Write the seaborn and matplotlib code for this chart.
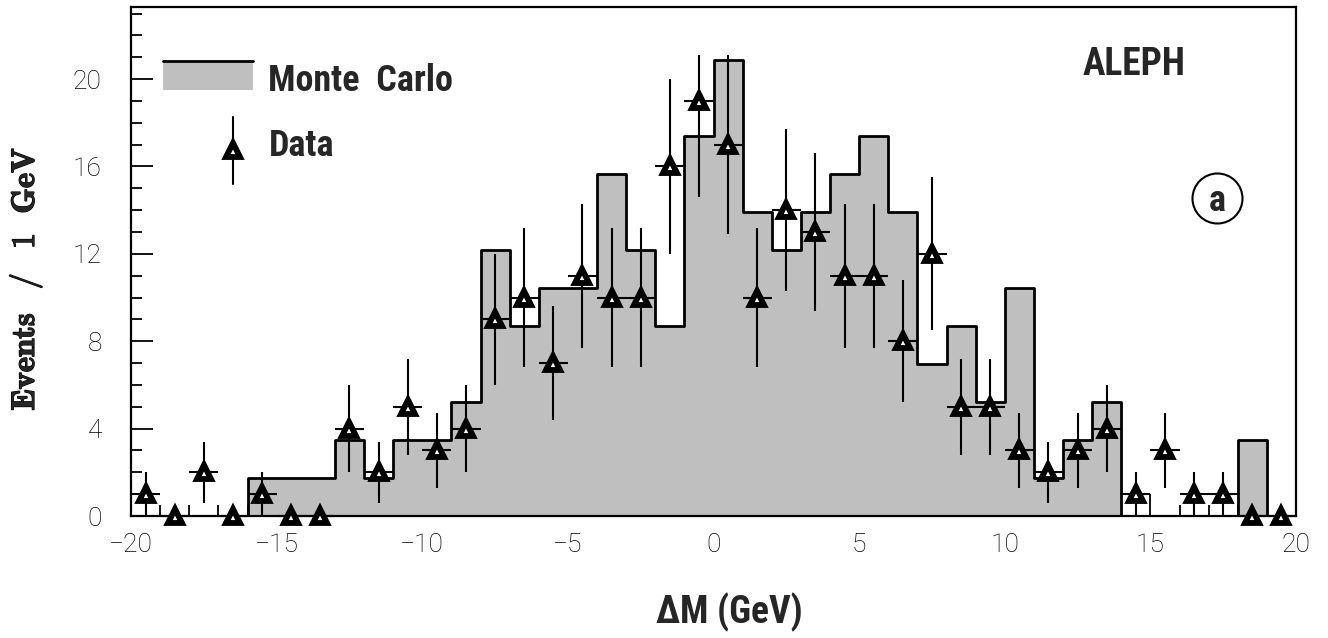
import numpy as np
import pandas as pd
import matplotlib
matplotlib.use("Agg")
import matplotlib.pyplot as plt
import seaborn as sns
from matplotlib import font_manager as fm
from matplotlib import patheffects as pe
from matplotlib.ticker import MultipleLocator
from matplotlib.patches import Rectangle, Patch
from matplotlib.lines import Line2D
from matplotlib.legend_handler import HandlerBase

# ---------------- data ----------------
bin_edges = list(range(-20, 21))                     # 1 GeV bins
bin_centers = [e + 0.5 for e in range(-20, 20)]

mc_values = [0, 0, 0, 0, 1.74, 1.74, 1.74, 3.48, 1.74, 3.48,
             3.48, 5.22, 12.18, 8.70, 10.44, 10.44, 15.66, 12.18, 8.70, 17.40,
             20.88, 13.92, 12.18, 13.92, 15.66, 17.40, 13.92, 6.96, 8.70, 5.22,
             10.44, 1.74, 3.48, 5.22, 0, 0, 0, 0, 3.48, 0]

data_counts = [1, 0, 2, 0, 1, 0, 0, 4, 2, 5,
               3, 4, 9, 10, 7, 11, 10, 10, 16, 19,
               17, 10, 14, 13, 11, 11, 8, 12, 5, 5,
               3, 2, 3, 4, 1, 3, 1, 1, 0, 0]

err_low = [1.0, 0, 1.4, 0, 1.0, 0, 0, 2.0, 1.4, 2.2,
           1.7, 2.0, 3.0, 3.2, 2.6, 3.3, 3.2, 3.2, 4.0, 4.4,
           4.1, 3.2, 3.7, 3.6, 3.3, 3.3, 2.8, 3.5, 2.2, 2.2,
           1.7, 1.4, 1.7, 2.0, 1.0, 1.7, 1.0, 1.0, 0, 0]

err_high = [1.0, 0, 1.4, 0, 1.0, 0, 0, 2.0, 1.4, 2.2,
            1.7, 2.0, 3.0, 3.2, 2.6, 3.3, 3.2, 3.2, 4.0, 2.1,
            4.1, 3.2, 3.7, 3.6, 3.3, 3.3, 2.8, 3.5, 2.2, 2.2,
            1.7, 1.4, 1.7, 2.0, 1.0, 1.7, 1.0, 1.0, 0, 0]

bin_half_width = 0.5

x_ticks_major = [-20, -15, -10, -5, 0, 5, 10, 15, 20]
y_ticks_major = [0, 4, 8, 12, 16, 20]

# ---------------- fonts ----------------
names = {f.name for f in fm.fontManager.ttflist}


def pick(cands):
    for c in cands:
        if c in names:
            return c
    return "DejaVu Sans"


NARROW = [pick(["Roboto Condensed", "Liberation Sans Narrow",
                "DejaVu Sans Condensed", "Roboto", "DejaVu Sans"]),
          "DejaVu Sans"]

# ---------------- style ----------------
sns.set_style("ticks")
plt.rcParams["font.family"] = ["Roboto", "DejaVu Sans"]
plt.rcParams["font.weight"] = "light"
plt.rcParams["mathtext.fontset"] = "cm"
plt.rcParams["axes.unicode_minus"] = True

MC_FILL = "#bfbfbf"

fig = plt.figure(figsize=(13.28, 6.38), dpi=100)
ax = fig.add_axes([131 / 1328, 1 - 516 / 638, 1165 / 1328, 509 / 638])

df_mc = pd.DataFrame({"dm": bin_centers, "mc": mc_values})
sns.histplot(data=df_mc, x="dm", weights="mc", bins=bin_edges,
             element="step", fill=True, facecolor=MC_FILL, edgecolor="black",
             linewidth=2.0, alpha=1.0, ax=ax, zorder=1)

ax.errorbar(bin_centers, data_counts, yerr=[err_low, err_high],
            xerr=bin_half_width, fmt="^", ms=10, mfc="white", mec="black",
            mew=4.2, ecolor="black", elinewidth=1.5, capsize=0,
            clip_on=False, zorder=3)

ax.set_xlim(-20, 20)
ax.set_ylim(0, 23.3)
ax.set_xticks(x_ticks_major)
ax.set_yticks(y_ticks_major)
ax.xaxis.set_minor_locator(MultipleLocator(1))
ax.yaxis.set_minor_locator(MultipleLocator(1))
ax.tick_params(which="both", direction="in", top=False, right=False,
               width=1.3, color="black", labelsize=19, labelcolor="black")
ax.tick_params(which="major", length=16)
ax.tick_params(which="minor", length=8)
ax.tick_params(axis="y", pad=21)
ax.tick_params(axis="x", pad=12)
for s in ax.spines.values():
    s.set_linewidth(1.6)
    s.set_color("black")

ax.set_xlabel("ΔM (GeV)", fontsize=27, fontweight="bold", family=NARROW)
ax.xaxis.set_label_coords(0.514, -0.151)
ax.set_ylabel(r"$\mathbf{Events\ \ \,/\ \ \,1\ \ GeV}$", fontsize=23.5)
ax.yaxis.set_label_coords(-0.091, 0.466)
ax.yaxis.label.set_va("center")
ax.yaxis.label.set_path_effects([pe.withStroke(linewidth=0.9,
                                               foreground="black")])


# ---------------- legend ----------------
class HandlerMC(HandlerBase):
    def create_artists(self, legend, orig_handle, xdescent, ydescent,
                       width, height, fontsize, trans):
        y0 = -ydescent + 2
        r = Rectangle((-xdescent, y0), width, height,
                      facecolor=MC_FILL, edgecolor="none", transform=trans)
        l = Line2D([-xdescent, -xdescent + width],
                   [y0 + height] * 2, color="black", lw=2.0,
                   transform=trans)
        return [r, l]


class HandlerData(HandlerBase):
    def create_artists(self, legend, orig_handle, xdescent, ydescent,
                       width, height, fontsize, trans):
        x = -xdescent + 0.77 * width
        yc = -ydescent + height / 2 - 5
        v = Line2D([x, x], [yc - 24, yc + 24], color="black", lw=1.5,
                   transform=trans)
        m = Line2D([x], [yc], marker="^", ms=10, mfc="white", mec="black",
                   mew=4.2, linestyle="none", transform=trans)
        return [v, m]


mc_handle = Patch(label="Monte Carlo")
data_handle = Line2D([], [], label="Data")
ax.legend(handles=[mc_handle, data_handle],
          labels=["Monte  Carlo", "Data"],
          handler_map={Patch: HandlerMC(), Line2D: HandlerData()},
          loc="upper left", bbox_to_anchor=(0.0275, 0.890),
          frameon=False, borderpad=0, borderaxespad=0,
          handlelength=2.5, handleheight=0.85, handletextpad=0.42,
          labelspacing=0.8,
          prop=dict(family=NARROW, weight="bold", size=26))

# ---------------- annotations ----------------
ax.text(0.817, 0.866, "ALEPH", transform=ax.transAxes, fontsize=27,
        fontweight="bold", family=NARROW, ha="left", va="baseline")
ax.plot([0.932], [0.625], marker="o", ms=36, mfc="none", mec="black",
        mew=1.5, transform=ax.transAxes, clip_on=False)
ax.text(0.932, 0.627, "a", transform=ax.transAxes, fontsize=26,
        fontweight="bold", family=NARROW, ha="center", va="center_baseline")

fig.savefig("out.png", dpi=100)
